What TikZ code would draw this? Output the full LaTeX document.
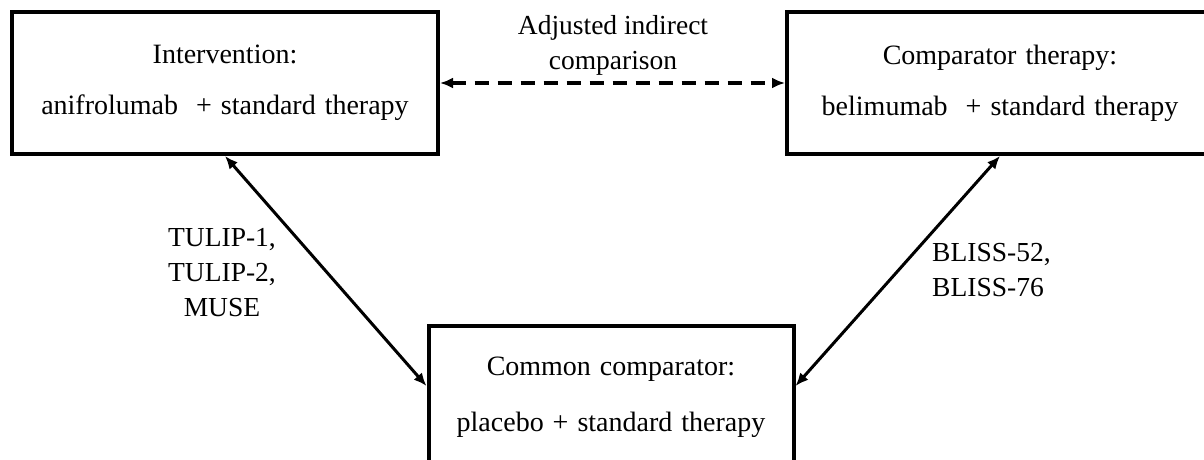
\documentclass[tikz,border=0pt]{standalone}
\usepackage{fontspec}
\setmainfont{Liberation Serif}
\usepackage{tikz}
\usetikzlibrary{arrows.meta, positioning}
\newcommand{\wordgap}{\spaceskip=9pt plus 2pt\relax}
\tikzstyle{arm} = [rectangle, draw=black, line width=4pt, minimum width=426pt, minimum height=142pt, inner sep=0pt, align=center, font=\fontsize{28}{51}\selectfont\wordgap]
\tikzstyle{lab} = [inner sep=0pt, font=\fontsize{27.5}{35}\selectfont]
\tikzstyle{link} = [{Latex[length=13pt,width=11pt]}-{Latex[length=13pt,width=11pt]}, line width=3pt]

\begin{document}
\begin{tikzpicture}[x=1pt, y=-1pt]
    \useasboundingbox (0, 0) rectangle (1204, 459);

    \node (intv) [arm] at (225, 83) {Intervention:\\anifrolumab~ + standard therapy};
    \node (compth) [arm] at (1000, 83) {Comparator therapy:\\belimumab~ + standard therapy};
    \node (common) [arm, minimum width=365pt] at (611, 397) {Common comparator:\\[5pt]placebo + standard therapy};

    \node (indirect) [lab, align=center] at (613, 45) {Adjusted indirect\\comparison};
    \node (tulip) [lab, align=center] at (222, 273) {TULIP-1,\\TULIP-2,\\MUSE};
    \node (bliss) [lab, align=left, anchor=west] at (932, 270) {BLISS-52,\\BLISS-76};

    \draw [link, line width=3.5pt, dash pattern=on 14pt off 9pt] (intv) -- (compth);
    \draw [link] (intv.south) -- ([yshift=11pt]common.west);
    \draw [link] (compth.south) -- ([yshift=11pt]common.east);

\end{tikzpicture}
\end{document}
